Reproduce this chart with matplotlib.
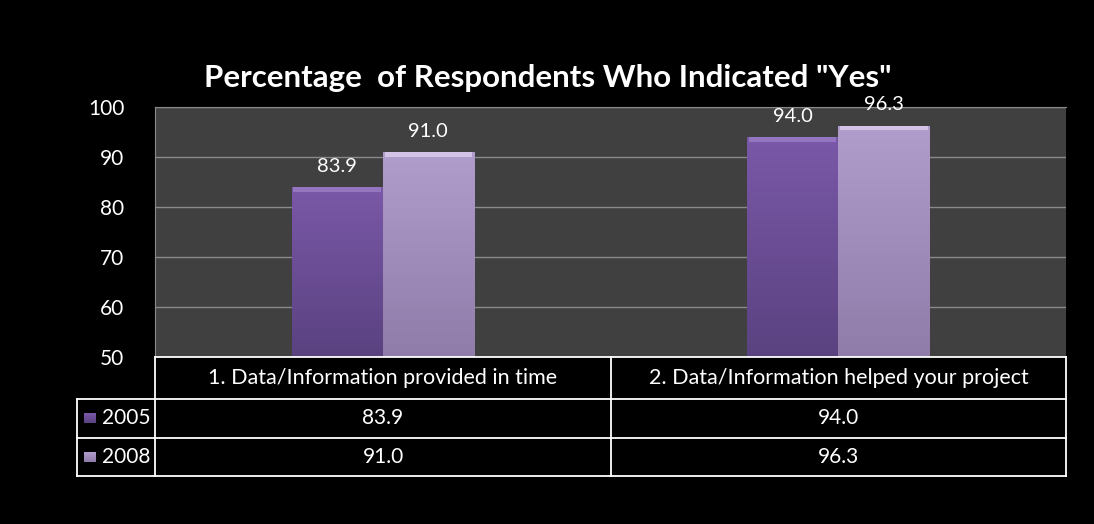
import numpy as np
import matplotlib
matplotlib.use("Agg")
import matplotlib.pyplot as plt
from matplotlib.colors import LinearSegmentedColormap

categories = ["1. Data/Information provided in time", "2. Data/Information helped your project"]
series_names = ["2005", "2008"]
values_2005 = [83.9, 94.0]
values_2008 = [91.0, 96.3]
yticks = [50, 60, 70, 80, 90, 100]
title = 'Percentage  of Respondents Who Indicated "Yes"'

FONT = ["Lato", "DejaVu Sans"]
plt.rcParams['font.family'] = FONT

W, H = 1094, 524
fig = plt.figure(figsize=(W / 100, H / 100), dpi=100, facecolor="black")

def fx(px):
    return px / W

def fy(py):
    return 1 - py / H

# plot area
L, R, T, B = 155, 1066, 107, 357
ax = fig.add_axes([fx(L), fy(B), fx(R - L), (B - T) / H])
ax.set_facecolor("#404040")
ax.set_ylim(50, 100)
ax.set_xlim(-0.5, 1.5)
ax.set_yticks(yticks)
ax.set_yticklabels([str(t) for t in yticks], color="white", fontsize=15)
ax.tick_params(axis="y", length=0, pad=22)
ax.set_xticks([])
for s in ax.spines.values():
    s.set_visible(False)
ax.spines["left"].set_visible(True)
ax.spines["left"].set_color("#8a8a8a")
ax.spines["top"].set_visible(True)
ax.spines["top"].set_color("#8a8a8a")
ax.yaxis.grid(True, color="#8a8a8a", linewidth=1)
ax.set_axisbelow(True)

x = np.arange(len(categories))
bw = 0.2
cm05 = LinearSegmentedColormap.from_list("c05", ["#5a4280", "#7a58a8"])
cm08 = LinearSegmentedColormap.from_list("c08", ["#8f7ca9", "#b19dcc"])
top05 = "#a58bd0"
top08 = "#ecdffa"
grad = np.linspace(0, 1, 256).reshape(-1, 1)
for vals, off, cmap, topc in [(values_2005, -bw / 2, cm05, top05), (values_2008, bw / 2, cm08, top08)]:
    bars = ax.bar(x + off, vals, bw, bottom=0, color="none", edgecolor="none", zorder=3)
    for b, v in zip(bars, vals):
        x0 = b.get_x()
        im = ax.imshow(grad, extent=[x0, x0 + bw, 50, v], origin="lower", cmap=cmap,
                       aspect="auto", zorder=3)
        im.set_clip_path(b)
        ax.fill_between([x0 + 0.004, x0 + bw - 0.004], v - 0.9, v, color=topc, alpha=0.6, zorder=4, linewidth=0)
        ax.text(x0 + bw / 2, v + 3.0, f"{v:.1f}", ha="center", va="baseline", color="white",
                fontsize=14.5, clip_on=False, zorder=5)
ax.set_xlim(-0.5, 1.5)
ax.set_ylim(50, 100)

# title
fig.text(fx(548), fy(78), title, ha="center", va="center", color="white",
         fontsize=22.5, fontweight="bold")

# table overlay
ov = fig.add_axes([0, 0, 1, 1])
ov.set_xlim(0, W)
ov.set_ylim(H, 0)
ov.axis("off")
ov.patch.set_alpha(0)
LC = 77
MID = 611
rows_y = [357, 399, 438, 476]
lw = 1.3
col = "white"
ov.plot([L, R], [357, 357], color=col, lw=lw)
ov.plot([L, L], [357, 476], color=col, lw=lw)
ov.plot([R, R], [357, 476], color=col, lw=lw)
ov.plot([MID, MID], [357, 476], color=col, lw=lw)
ov.plot([LC, R], [399, 399], color=col, lw=lw)
ov.plot([LC, R], [438, 438], color=col, lw=lw)
ov.plot([LC, R], [476, 476], color=col, lw=lw)
ov.plot([LC, LC], [399, 476], color=col, lw=lw)

cols_c = [(L + MID) / 2, (MID + R) / 2]
for c, cx in zip(categories, cols_c):
    ov.text(cx, (357 + 399) / 2, c, ha="center", va="center", color="white", fontsize=15.5)
for i, (name, vals, cmap) in enumerate([(series_names[0], values_2005, cm05),
                                        (series_names[1], values_2008, cm08)]):
    yc = (rows_y[i + 1] + rows_y[i + 2]) / 2
    for v, cx in zip(vals, cols_c):
        ov.text(cx, yc, f"{v:.1f}", ha="center", va="center", color="white", fontsize=15)
    ov.imshow(grad, extent=[84, 96, yc + 5, yc - 5], origin="lower", cmap=cmap, aspect="auto")
    ov.text(102, yc, name, ha="left", va="center", color="white", fontsize=15)
ov.set_xlim(0, W)
ov.set_ylim(H, 0)

fig.savefig("out.png", dpi=100, facecolor="black")
